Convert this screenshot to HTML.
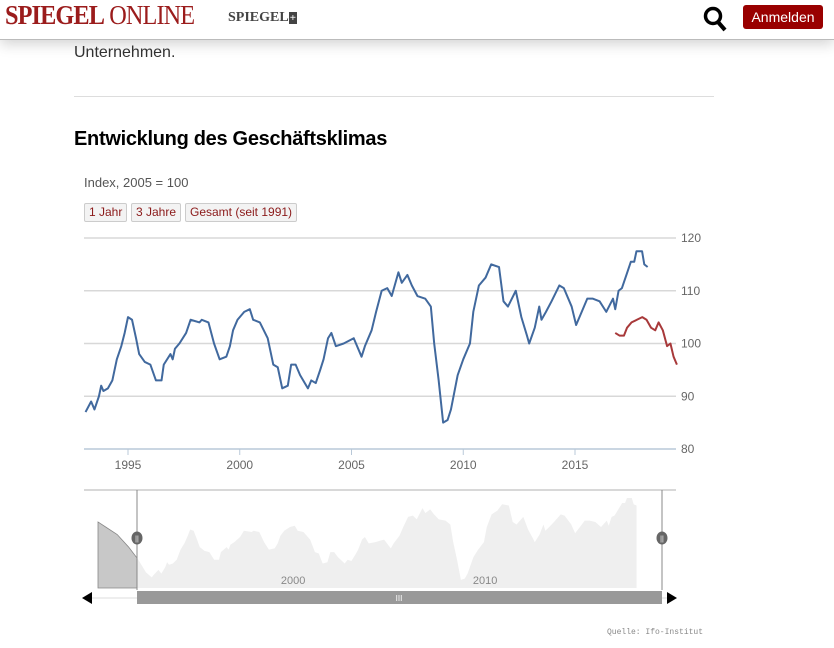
<!DOCTYPE html>
<html><head><meta charset="utf-8"><style>
body{margin:0;width:834px;height:648px;overflow:hidden;background:#fff;font-family:"Liberation Sans",sans-serif;position:relative}
.hdr{position:absolute;left:0;top:0;width:834px;height:39px;background:#fff;border-bottom:1px solid #bbb;box-shadow:0 4px 14px rgba(0,0,0,.18);z-index:2}
.abs{position:absolute}
.btn{position:absolute;top:203px;height:17px;border:1px solid #ccc;border-radius:2px;background:#f3f3f3;color:#8b1a1a;font-size:12px;line-height:17px;padding:0 4px}
</style></head><body>
<div class="hdr">
 <div class="abs" style="left:5px;top:0px;font-family:'Liberation Serif',serif;font-size:27px;color:#9b1c1c;letter-spacing:-1px;transform:scaleX(.9);transform-origin:left"><b>SPIEGEL</b> ONLINE</div>
 <div class="abs" style="left:228px;top:10px;font-family:'Liberation Serif',serif;font-size:14px;font-weight:bold;color:#444">SPIEGEL<span style="background:#444;color:#fff;font-size:11px;padding:0 1px">+</span></div>
 <svg class="abs" style="left:703px;top:5px" width="26" height="28"><circle cx="10" cy="11" r="7.5" fill="none" stroke="#000" stroke-width="3.5"/><line x1="15" y1="17" x2="22" y2="25" stroke="#000" stroke-width="4"/></svg>
 <div class="abs" style="left:743px;top:5px;width:80px;height:24px;background:#990000;color:#fff;border-radius:3px;font-size:14px;line-height:24px;text-align:center">Anmelden</div>
</div>
<div class="abs" style="left:74px;top:44px;font-size:16px;color:#333">Unternehmen.</div>
<div class="abs" style="left:74px;top:96px;width:640px;height:1px;background:#ddd"></div>
<div class="abs" style="left:74px;top:128px;font-size:20px;font-weight:bold;color:#000;letter-spacing:-.3px">Entwicklung des Geschäftsklimas</div>
<div class="abs" style="left:84px;top:175px;font-size:13px;color:#555">Index, 2005 = 100</div>
<div class="btn" style="left:84px">1 Jahr</div>
<div class="btn" style="left:131px">3 Jahre</div>
<div class="btn" style="left:185px">Gesamt (seit 1991)</div>
<svg id="ch" class="abs" style="left:0;top:0" width="834" height="648"></svg>
<div class="abs" style="left:607px;top:628px;font-family:'Liberation Mono',monospace;font-size:8px;color:#888">Quelle: Ifo-Institut</div>
<script>
const blueYears=[1993.1,1993.35,1993.5,1993.7,1993.8,1993.9,1994.1,1994.3,1994.5,1994.7,1994.85,1995.0,1995.18,1995.36,1995.5,1995.75,1996.0,1996.25,1996.5,1996.6,1996.9,1997.0,1997.1,1997.3,1997.6,1997.8,1998.2,1998.3,1998.6,1998.85,1999.1,1999.4,1999.56,1999.7,1999.9,2000.2,2000.45,2000.6,2000.9,2001.25,2001.5,2001.7,2001.9,2002.15,2002.3,2002.5,2002.7,2003.05,2003.2,2003.4,2003.6,2003.75,2003.95,2004.1,2004.3,2004.65,2005.1,2005.45,2005.6,2005.9,2006.1,2006.35,2006.6,2006.8,2007.1,2007.25,2007.5,2007.7,2007.95,2008.3,2008.55,2008.7,2008.9,2009.1,2009.3,2009.45,2009.75,2010.0,2010.3,2010.45,2010.7,2011.0,2011.25,2011.6,2011.8,2012.0,2012.35,2012.6,2012.85,2012.95,2013.2,2013.4,2013.5,2013.7,2013.95,2014.3,2014.5,2014.85,2015.05,2015.3,2015.55,2015.8,2016.1,2016.4,2016.7,2016.8,2016.95,2017.1,2017.3,2017.5,2017.65,2017.75,2018.0,2018.1,2018.25];
const blueVals=[87,89,87.5,90,92,91,91.5,93,97,99.5,102,105,104.5,101,98,96.5,96,93,93,96,98,97,99,100,102,104.5,104,104.5,104,100,97,97.5,99.5,102.5,104.5,106,106.5,104.5,104,101,96,95.5,91.5,92,96,96,94,91.5,93,92.5,95,97,101,102,99.5,100,101,97.5,99.5,102.5,106,110,110.5,109,113.5,111.5,113,111,109,108.5,107,100,93,85,85.5,87.5,94,97,100,106,111,112.5,115,114.5,108,107,110,105,101.5,100,103,107,104.5,106,108,111,110.5,107,103.5,106,108.5,108.5,108,106,108.5,106.5,110,110.5,113,115.5,115.5,117.5,117.5,115,114.5];
const redYears=[2016.8,2016.99,2017.19,2017.33,2017.53,2017.77,2018.01,2018.2,2018.4,2018.59,2018.74,2018.93,2019.12,2019.27,2019.41,2019.56];
const redVals=[102,101.5,101.5,103,104,104.5,105,104.5,103,102.5,104,102.5,99.5,100,97.5,96];
const navYears=[1990.2,1990.6,1991.2,1991.8,1992.3,1992.7,1993.0];
const navVals=[108,106,103,98,93,88,86];
const yTicks=[80,90,100,110,120];
const xTicks=[1995,2000,2005,2010,2015];
const navTicks=[2000,2010];

const NS='http://www.w3.org/2000/svg',svg=document.getElementById('ch');
const X=y=>128+(y-1995)*22.35, Y=v=>238+(120-v)*5.275;
const NX=y=>98+(y-1990.2)*19.2, NY=v=>498+(117.5-v)*2.52;
function mk(t,a){const e=document.createElementNS(NS,t);for(const k in a)e.setAttribute(k,a[k]);svg.appendChild(e);return e;}
yTicks.forEach(v=>{const l=mk('line',{x1:84,x2:676,y1:Y(v),y2:Y(v),stroke:v===80?'#b8c8d8':'#d8d8d8','stroke-width':1.5});

const t=mk('text',{x:681,y:Y(v)+4,'font-size':12,fill:'#666','font-family':'Liberation Sans'});t.textContent=v;
});
xTicks.forEach(yr=>{const l=mk('line',{x1:X(yr),x2:X(yr),y1:449,y2:455,stroke:'#b8c8d8'});

const t=mk('text',{x:X(yr),y:469,'font-size':12,fill:'#666','text-anchor':'middle','font-family':'Liberation Sans'});t.textContent=yr;
});
const bp=mk('polyline',{points:blueYears.map((y,i)=>X(y)+','+Y(blueVals[i])).join(' '),fill:'none',stroke:'#41699e','stroke-width':2,'stroke-linejoin':'round'});

const rp=mk('polyline',{points:redYears.map((y,i)=>X(y)+','+Y(redVals[i])).join(' '),fill:'none',stroke:'#a8393a','stroke-width':2,'stroke-linejoin':'round'});

const ny=navYears.concat(blueYears),nv=navVals.concat(blueVals);
const base=588;
let d='M'+NX(ny[0])+','+base+' '+ny.map((y,i)=>'L'+NX(y)+','+NY(nv[i])).join(' ')+' L'+NX(ny[ny.length-1])+','+base+'Z';
const na=mk('path',{d:d,fill:'#efefef'});

const cp=mk('clipPath',{id:'cl'});const cr=document.createElementNS(NS,'rect');cr.setAttribute('x',84);cr.setAttribute('y',480);cr.setAttribute('width',53);cr.setAttribute('height',110);cp.appendChild(cr);
const na2=mk('path',{d:d,fill:'#c8c8c8',stroke:'#888','stroke-width':0.8,'clip-path':'url(#cl)'});

const tl=mk('line',{x1:84,x2:676,y1:490,y2:490,stroke:'#ccc','stroke-width':1.5});

navTicks.forEach(yr=>{const t=mk('text',{x:NX(yr)+7,y:584,'font-size':11,fill:'#888','text-anchor':'middle','font-family':'Liberation Sans'});t.textContent=yr;
});
[137,662].forEach((x,i)=>{const l=mk('line',{x1:x,x2:x,y1:490,y2:590,stroke:'#888'});

const c=mk('ellipse',{cx:x,cy:538,rx:5.5,ry:6.5,fill:'#666'});

const t=mk('text',{x:x,y:541,'font-size':7,fill:'#fff','text-anchor':'middle'});t.textContent='||';
});
const sl=mk('line',{x1:92,x2:670,y1:598,y2:598,stroke:'#ddd'});

const sb=mk('rect',{x:137,y:591,width:525,height:13,fill:'#999'});

const g=mk('text',{x:399,y:601,'font-size':8,fill:'#fff','text-anchor':'middle'});g.textContent='III';

const la=mk('path',{d:'M82,598 L92,592 L92,604Z',fill:'#000'});

const ra=mk('path',{d:'M677,598 L667,592 L667,604Z',fill:'#000'});

</script>
</body></html>
